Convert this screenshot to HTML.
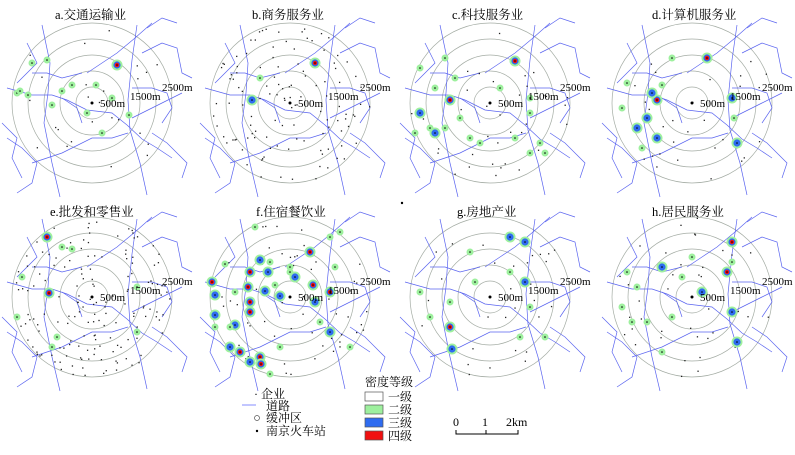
<!DOCTYPE html>
<html><head><meta charset="utf-8"><style>
body{margin:0;background:#fff;width:795px;height:450px;overflow:hidden}
svg text{font-family:"Liberation Serif","Noto Serif CJK SC",serif}
</style></head><body>
<svg id="s" width="795" height="450" xmlns="http://www.w3.org/2000/svg">
<g font-size="12.5" fill="#000">
<text x="55" y="19">a.交通运输业</text>
<text x="252" y="19">b.商务服务业</text>
<text x="452" y="19">c.科技服务业</text>
<text x="652" y="19">d.计算机服务业</text>
<text x="50" y="216">e.批发和零售业</text>
<text x="256" y="216">f.住宿餐饮业</text>
<text x="457" y="216">g.房地产业</text>
<text x="652" y="216">h.居民服务业</text>
</g>
<g font-size="12">
<text x="254" y="398">·  企业</text>
<text x="266" y="410">道路</text>
<text x="266" y="422">缓冲区</text>
<text x="266" y="435">南京火车站</text>
<line x1="242" y1="405" x2="256" y2="405" stroke="#6670ff" stroke-width="0.8"/>
<circle cx="257" cy="418" r="2.5" fill="none" stroke="#555" stroke-width="0.7"/>
<circle cx="257" cy="431" r="1.2" fill="#000"/>
<text x="365" y="386">密度等级</text>
<rect x="365" y="392" width="18" height="9" fill="#fff" stroke="#555" stroke-width="0.7"/>
<rect x="365" y="405" width="18" height="9" fill="#9ef09e" stroke="#555" stroke-width="0.7"/>
<rect x="365" y="418" width="18" height="9" fill="#2f6cf0" stroke="#555" stroke-width="0.7"/>
<rect x="365" y="431" width="18" height="9" fill="#f01010" stroke="#555" stroke-width="0.7"/>
<text x="388" y="401">一级</text>
<text x="388" y="414">二级</text>
<text x="388" y="427">三级</text>
<text x="388" y="440">四级</text>
<text x="453" y="426">0</text><text x="482" y="426">1</text><text x="506" y="426">2km</text>
<path d="M456 430V434H518V430M486 430V434" fill="none" stroke="#000" stroke-width="1"/>
<circle cx="402" cy="203" r="1.2" fill="#000"/>
</g>
</svg>
<script>
const s=document.getElementById('s'),NS='http://www.w3.org/2000/svg';
function el(t,a){const e=document.createElementNS(NS,t);for(const k in a)e.setAttribute(k,a[k]);s.appendChild(e);return e}
const roads=[
[[-50,-78],[-42,-40],[-44,-10],[-48,20],[-40,60],[-32,94]],
[[45,-78],[40,-43],[36,-3],[38,27],[48,60],[55,92]],
[[-5,-30],[10,-40],[25,-50],[43,-65],[60,-80]],
[[-85,-15],[-60,-8],[-40,-8],[-25,-3],[-5,7],[20,10],[35,22],[50,36],[65,45],[80,55]],
[[-60,-30],[-45,-30],[-30,-25],[-10,-30]],
[[40,-15],[60,-15],[75,-10],[80,5],[70,20]],
[[-90,20],[-75,35],[-80,55],[-70,75]],
[[-60,60],[-30,50],[0,35],[20,35],[36,30]],
[[40,15],[70,0],[90,-10]],
[[50,-50],[70,-60],[85,-55],[90,-30],[100,-25]],
[[60,30],[75,40],[85,50],[95,60],[90,75]],
[[-85,35],[-70,45],[-55,60],[-60,80],[-75,90]],
[[-30,-5],[-15,5],[-10,20]],
[[55,-75],[70,-85],[85,-80]],
[[-65,-60],[-55,-40],[-75,-20]]
];
const cx=[92,290,490,692],cy=[103,297];
const hs=[
[[25,-38,4],[-75,-10,2],[-72,-12,2],[-64,-8,2],[-30,-12,2],[-40,2,2],[-60,-40,2],[-45,-43,2],[-20,-18,2],[4,-18,2],[20,-5,2],[37,12,2],[10,30,2],[-5,10,2]],
[[25,-40,4],[-38,-3,3],[-30,-25,2]],
[[25,-42,4],[-40,-3,4],[-35,-25,2],[-55,-15,2],[-70,10,3],[-55,30,3],[-45,25,2],[-60,25,2],[-30,15,2],[10,-15,2],[40,-5,2],[40,10,2],[50,40,2],[40,50,2],[55,50,2],[-10,40,2],[-20,35,2],[-75,30,2],[25,35,2],[-45,-45,2],[-70,-35,2]],
[[15,-45,4],[-35,-3,4],[-40,-10,3],[-30,-18,2],[-65,-20,2],[-55,25,3],[-45,15,3],[-35,35,3],[-50,45,2],[40,-5,3],[42,15,2],[45,40,3],[-20,-45,2],[-70,5,2]],
[[-45,-60,4],[-43,-4,4],[-20,-48,2],[-30,-50,2],[45,-10,2],[-70,-20,2],[-40,50,2],[-35,40,2],[-75,20,2],[45,35,2]],
[[-40,-25,4],[-78,-15,4],[-42,-10,4],[-40,5,4],[-40,15,4],[-50,55,4],[-30,60,4],[-29,67,4],[20,-45,4],[23,-12,4],[5,-20,3],[25,5,3],[40,-5,4],[-22,-25,3],[-25,-6,3],[-10,-1,3],[-75,-2,3],[-75,18,3],[-55,28,3],[-60,50,3],[-40,65,3],[40,35,3],[-30,-37,3],[-15,-12,2],[-35,-70,2],[-65,-33,2],[-20,-35,2],[0,-25,2],[-60,30,2],[-75,30,2],[30,25,2],[45,-30,2],[40,-60,2],[-10,50,2],[60,50,2],[-20,77,2],[50,-65,2],[-55,-5,2],[0,-30,2]],
[[35,-55,3],[-40,30,4],[-38,52,3],[35,-15,3],[20,-60,3],[20,-25,2],[-15,-15,2],[-40,5,2],[-60,20,2],[40,10,2],[55,40,2],[30,40,2],[-20,-45,2],[-70,-5,2]],
[[40,-55,4],[35,-25,4],[-30,-30,3],[-10,-20,2],[-55,-10,2],[-60,25,2],[-70,10,2],[-45,25,2],[10,-5,3],[40,15,3],[45,45,3],[-30,55,2],[-65,-25,2],[0,-40,2],[-20,20,2],[40,-35,2]]
];
for(let p=0;p<8;p++){
 const X=cx[p%4],Y=cy[p>>2];
 for(let r=1;r<=5;r++)el('circle',{cx:X,cy:Y,r:r*16,fill:'none',stroke:'#a4aca4','stroke-width':0.7});
 for(const rd of roads)el('polyline',{points:rd.map(q=>(X+q[0])+','+(Y+q[1])).join(' '),fill:'none',stroke:'#5a64f0','stroke-width':0.7});
 let seed=p*97+13;const rnd=()=>{seed=(seed*9301+49297)%233280;return seed/233280};
 const n=[25,120,40,30,160,60,30,40][p];
 for(let i=0;i<n;i++){const a=rnd()*6.28,rr=Math.sqrt(rnd())*80;el('rect',{x:X+Math.cos(a)*rr,y:Y+Math.sin(a)*rr,width:1.3,height:1.3,fill:'#222'})}
 for(const h of hs[p]){const x=X+h[0],y=Y+h[1];
  el('circle',{cx:x,cy:y,r:h[2]>=3?5.5:3.5,fill:'#9ef09e'});
  if(h[2]>=3)el('circle',{cx:x,cy:y,r:3.6,fill:'#2f6cf0'});
  if(h[2]>=4)el('circle',{cx:x,cy:y,r:2.2,fill:'#f01010'});
  el('circle',{cx:x,cy:y,r:0.8,fill:'#000'});}
 el('circle',{cx:X,cy:Y,r:1.5,fill:'#000'});
 const t=(x,y,s)=>{const e=el('text',{x:x,y:y,'font-size':11});e.textContent=s};
 t(X+8,Y+4,'500m');t(X+38,Y-3,'1500m');t(X+70,Y-12,'2500m');
}
</script>
</body></html>
